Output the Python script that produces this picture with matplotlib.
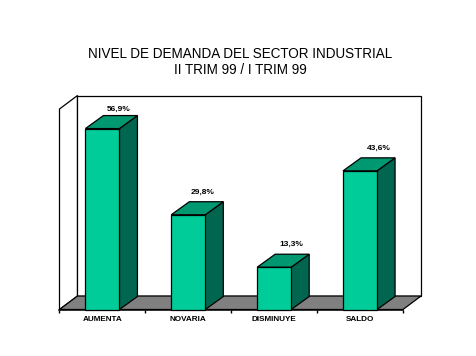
import matplotlib
matplotlib.use("Agg")
import matplotlib.pyplot as plt
from matplotlib.patches import Polygon

categories = ["AUMENTA", "NOVARIA", "DISMINUYE", "SALDO"]
values = [56.9, 29.8, 13.3, 43.6]
value_labels = ["56,9%", "29,8%", "13,3%", "43,6%"]
title_lines = ["NIVEL DE DEMANDA DEL SECTOR INDUSTRIAL", "II TRIM 99 / I TRIM 99"]

W, H = 477, 356
plt.rcParams["font.family"] = ["Liberation Sans", "DejaVu Sans"]
fig = plt.figure(figsize=(W / 100, H / 100), dpi=100, facecolor="white")

# front plane of the fake 3d box, in pixels
left, right, base, top = 59.5, 403, 309.5, 109
ax = fig.add_axes([left / W, 1 - base / H, (right - left) / W, (base - top) / H])
px_x = (right - left) / 4
px_y = 3.18
ax.set_xlim(0, 4)
ax.set_ylim(0, (base - top) / px_y)
ax.patch.set_visible(False)
for s in ["top", "right", "left"]:
    ax.spines[s].set_visible(False)
ax.spines["bottom"].set_linewidth(1.1)
ymax = ax.get_ylim()[1]

# depth of walls and bars
dx = 18 / px_x
dy = 13.5 / px_y
bar_dy = 13 / px_y
w = 0.396

# hand placed label offsets from the bar's front top right corner (pixels)
label_dx = [-0.5, -2.5, 0, 1.5]
label_dy = [19, 22, 23, 23]


def poly(pts, fc, z):
    ax.add_patch(Polygon(pts, closed=True, facecolor=fc, edgecolor="black",
                         linewidth=0.9, zorder=z, clip_on=False))


# walls and floor
poly([(0, 0), (dx, dy), (dx, ymax + dy), (0, ymax)], "white", 1)
poly([(dx, dy), (4 + dx, dy), (4 + dx, ymax + dy), (dx, ymax + dy)], "white", 1)
poly([(0, 0), (dx, dy), (4 + dx, dy), (4, 0)], "#808080", 2)

for i, v in enumerate(values):
    x0 = i + 0.5 - w / 2
    x1 = i + 0.5 + w / 2
    poly([(x1, 0), (x1 + dx, bar_dy), (x1 + dx, v + bar_dy), (x1, v)], "#006650", 3)
    poly([(x0, v), (x0 + dx, v + bar_dy), (x1 + dx, v + bar_dy), (x1, v)], "#009870", 3)
    poly([(x0, 0), (x0, v), (x1, v), (x1, 0)], "#00CC99", 4)
    ax.text(x1 + label_dx[i] / px_x, v + label_dy[i] / px_y, value_labels[i],
            ha="center", va="center", fontsize=6, fontweight="bold", color="black", zorder=5)

ax.set_yticks([])
ax.set_xticks(range(5))
ax.set_xticklabels([])
ax.set_xticks([i + 0.5 for i in range(4)], minor=True)
ax.set_xticklabels(categories, minor=True, fontsize=5.9, fontweight="bold")
ax.tick_params(axis="x", which="major", length=2, width=1, direction="out")
ax.tick_params(axis="x", which="minor", length=0, pad=5)

fig.text(240 / W, 1 - 54 / H, title_lines[0], ha="center", va="center", fontsize=9.75, color="black")
fig.text(240 / W, 1 - 70 / H, title_lines[1], ha="center", va="center", fontsize=9.75, color="black")

fig.savefig("out.png", dpi=100)
